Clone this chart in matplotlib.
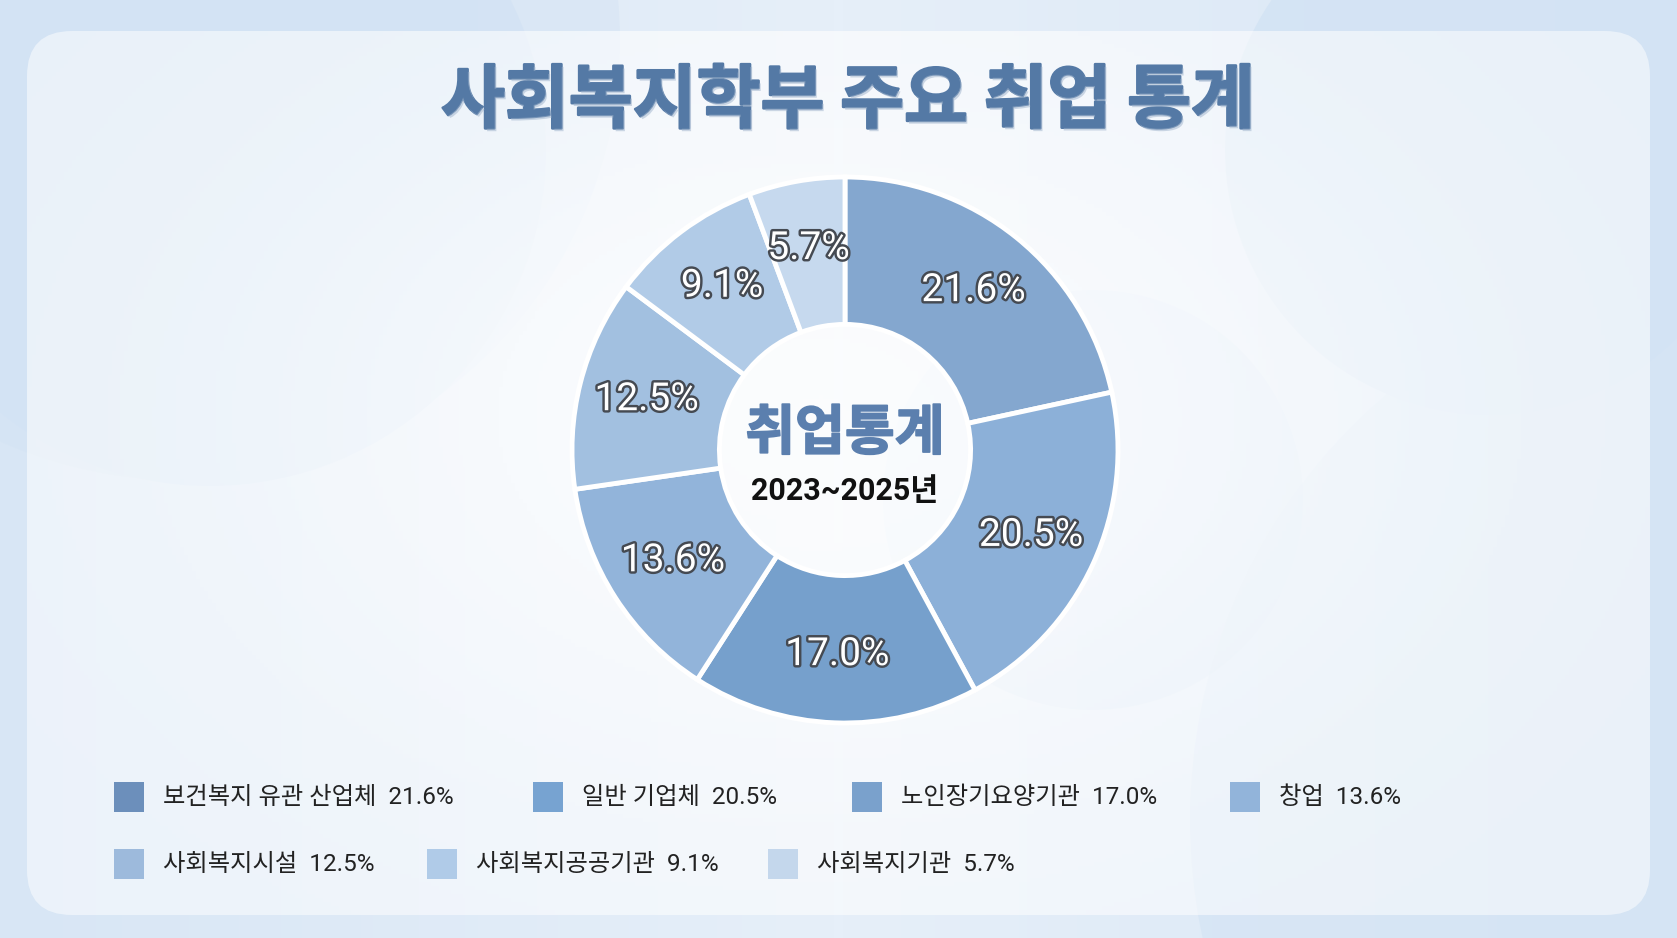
import numpy as np
import matplotlib
matplotlib.use("Agg")
import matplotlib.pyplot as plt
from matplotlib.patches import Circle, FancyBboxPatch, Rectangle
import matplotlib.patheffects as pe

# 데이터
categories = ["보건복지 유관 산업체", "일반 기업체", "노인장기요양기관", "창업",
              "사회복지시설", "사회복지공공기관", "사회복지기관"]
shares = [21.6, 20.5, 17.0, 13.6, 12.5, 9.1, 5.7]
title = "사회복지학부 주요 취업 통계"
center_title = "취업통계"
center_sub = "2023~2025년"

# 스타일
wedge_colors = ["#84a7cf", "#8cb0d8", "#76a0cc", "#92b4da", "#a2c0e0", "#b1cbe7", "#c6d9ee"]
legend_colors = ["#6c8fbb", "#77a3d1", "#7aa1cc", "#92b4da", "#9dbadc", "#b0cbe8", "#c4d7ec"]
# 범례 위치 (픽셀, 위에서부터)
legend_pos = [(114, 797), (533, 797), (852, 797), (1230, 797),
              (114, 864), (427, 864), (768, 864)]

W, H = 1677, 938
fam = ["Roboto", "Noto Sans CJK KR", "DejaVu Sans"]
plt.rcParams["font.family"] = fam

fig = plt.figure(figsize=(W / 100, H / 100), dpi=100)
ax = fig.add_axes([0, 0, 1, 1])

# 배경 그라데이션
gx = np.linspace(-1, 1, 400)
grad = np.abs(gx)[None, :] * np.ones((10, 1))
cmap_bg = matplotlib.colors.LinearSegmentedColormap.from_list("bg", ["#e6eff9", "#d8e6f5"])
ax.imshow(grad, extent=(0, W, 0, H), cmap=cmap_bg, aspect="auto", zorder=0)

# 배경 원
for cx, cy, r, a in [(180, 40, 440, 0.45), (210, 150, 336, 0.85), (1490, 150, 265, 0.85),
                     (1093, 500, 210, 0.6), (1750, 820, 560, 0.6)]:
    ax.add_patch(Circle((cx, H - cy), r, facecolor="#d3e3f4", edgecolor="none",
                        alpha=a, zorder=1))

# 패널
panel = FancyBboxPatch((27 + 45, H - 915 + 45), 1650 - 27 - 90, 915 - 31 - 90,
                       boxstyle="round,pad=45", facecolor="white", edgecolor="none",
                       alpha=0.5, zorder=2)
ax.add_patch(panel)
# 패널 중앙 밝게
yy, xx = np.mgrid[0:H:4, 0:W:4]
glow = np.exp(-(((xx - 820) / 560.0) ** 2 + ((yy - 520) / 380.0) ** 2))
rgba = np.ones(glow.shape + (4,))
rgba[..., 3] = glow * 0.7
im = ax.imshow(rgba, extent=(0, W, H, 0), aspect="auto", zorder=2.5)
im.set_clip_path(panel)

# 제목
ax.text(848, H - 102, title, ha="center", va="center", fontsize=50,
        fontweight="bold", color="#5479a5", family=["Noto Sans CJK KR"], zorder=5,
        path_effects=[pe.withStroke(linewidth=1.8, foreground="#5479a5"),
                      pe.withSimplePatchShadow(offset=(1.5, -2), shadow_rgbFace="#9fb3cc",
                                               alpha=0.5), pe.Normal()])

# 도넛 차트
R = 273
wedges, texts, autotexts = ax.pie(
    shares, colors=wedge_colors, startangle=90, counterclock=False,
    radius=R, center=(845, H - 450), autopct="%.1f%%", pctdistance=0.75,
    wedgeprops=dict(width=R * 0.54, edgecolor="white", linewidth=3.5),
    textprops=dict(fontsize=28, color="white", family=fam,
                   path_effects=[pe.withStroke(linewidth=3.5, foreground="#454a52")]),
)
for w in wedges:
    w.set_zorder(4)
for t in autotexts:
    t.set_zorder(6)

ax.text(845, H - 434, center_title, ha="center", va="center", fontsize=39,
        fontweight="bold", color="#5b7fae", family=["Noto Sans CJK KR"], zorder=6,
        path_effects=[pe.withStroke(linewidth=1.2, foreground="#5b7fae")])
ax.text(845, H - 491, center_sub, ha="center", va="center", fontsize=22,
        fontweight="bold", color="#111111", zorder=6)

# 범례
for (lx, ly), name, val, col in zip(legend_pos, categories, shares, legend_colors):
    ax.add_patch(Rectangle((lx, H - ly - 15), 30, 30, facecolor=col,
                           edgecolor="none", zorder=6))
    ax.text(lx + 49, H - ly, f"{name}  {val:.1f}%", ha="left", va="center",
            fontsize=17.5, color="#222222", zorder=6)

ax.set_xlim(0, W)
ax.set_ylim(0, H)
ax.set_aspect("auto")
ax.axis("off")

fig.savefig("out.png", dpi=100)
